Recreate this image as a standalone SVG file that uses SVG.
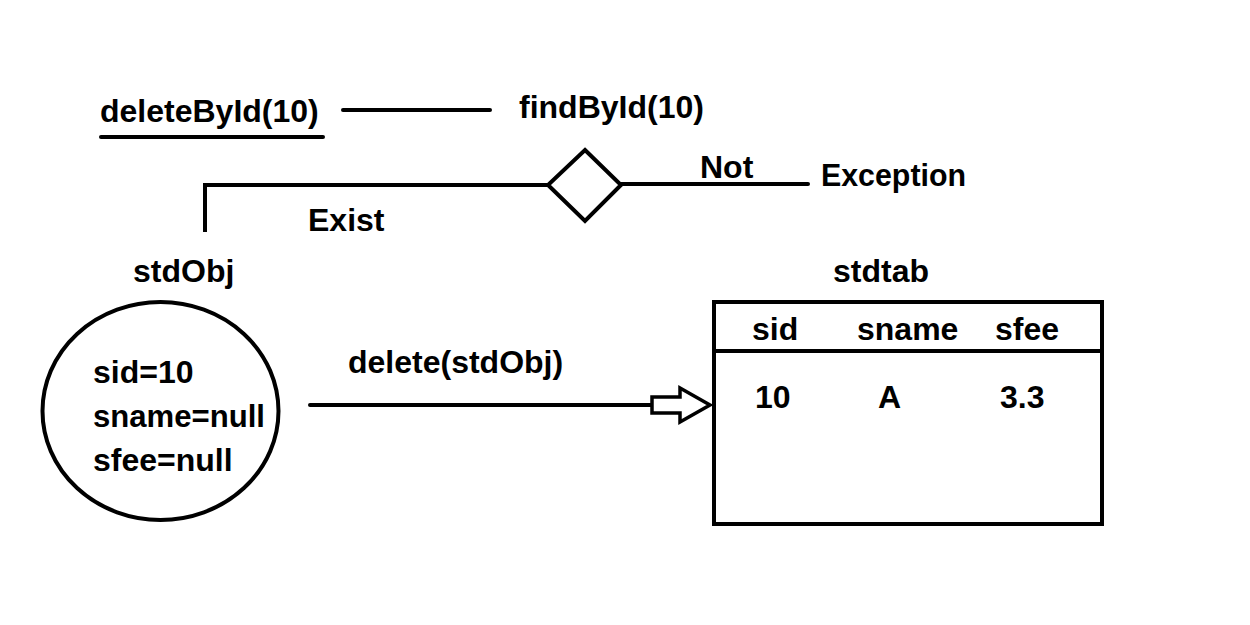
<svg xmlns="http://www.w3.org/2000/svg" width="1250" height="625" viewBox="0 0 1250 625">
<style>
text{font-family:"Liberation Sans",Arial,sans-serif;font-weight:bold;font-size:32px;fill:#000}
.ln{stroke:#000;stroke-width:4;fill:none;stroke-linecap:round}
.sh{stroke:#000;stroke-width:4;fill:#fff}
</style>
<rect width="1250" height="625" fill="#fff"/>
<g id="connectors">
<line class="ln" x1="343" y1="110" x2="490" y2="110"/>
<polyline class="ln" points="548,185 205,185 205,232" style="stroke-linecap:butt"/>
<line class="ln" x1="621" y1="184" x2="808" y2="184"/>
<line class="ln" x1="310" y1="405" x2="652" y2="405"/>
<polygon class="sh" points="652,397 680,397 680,388 710,405 680,422 680,413 652,413" style="stroke-width:3.5"/>
</g>
<g id="deleteById">
<text x="100" y="122">deleteById(10)</text>
<line class="ln" x1="101" y1="137" x2="323" y2="137"/>
</g>
<g id="findById"><text x="519" y="118">findById(10)</text></g>
<g id="decision"><polygon class="sh" points="585,150 621,185 585,221 548,185"/></g>
<g id="label-not"><text x="700" y="178">Not</text></g>
<g id="exception"><text x="821" y="186" textLength="145" lengthAdjust="spacingAndGlyphs">Exception</text></g>
<g id="label-exist"><text x="308" y="231">Exist</text></g>
<g id="stdObj">
<text x="133" y="282">stdObj</text>
<ellipse class="sh" cx="160.5" cy="411" rx="118" ry="109"/>
<text x="93" y="383">sid=10</text>
<text x="93" y="427" textLength="172" lengthAdjust="spacingAndGlyphs">sname=null</text>
<text x="93" y="471">sfee=null</text>
</g>
<g id="label-delete"><text x="348" y="373">delete(stdObj)</text></g>
<g id="stdtab">
<text x="833" y="282">stdtab</text>
<rect class="sh" x="714" y="302" width="388" height="222"/>
<line class="ln" x1="714" y1="351" x2="1102" y2="351"/>
<text x="752" y="340">sid</text>
<text x="857" y="340">sname</text>
<text x="995" y="340">sfee</text>
<text x="755" y="408">10</text>
<text x="878" y="408">A</text>
<text x="1000" y="408">3.3</text>
</g>
</svg>
